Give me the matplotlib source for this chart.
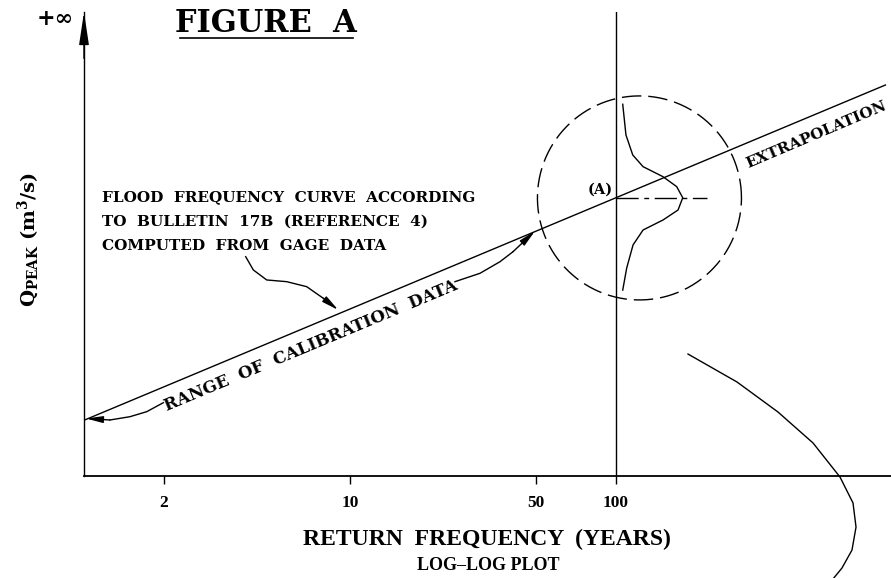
import numpy as np
import matplotlib
matplotlib.use("Agg")
import matplotlib.pyplot as plt
from matplotlib.lines import Line2D

# кривая обеспеченности по Bulletin 17B (прямая в log-log)
curve_T = [1, 1030]
curve_Q = [1.62, 29.5]

# подписи оси x
tick_T = [2, 10, 50, 100]
tick_labels = ["2", "10", "50", "100"]

# точка (A) на T = 100
point_T = 100
point_Q = 11.1

# распределение в точке (A)
bell_T = [106.0, 109.0, 115.6, 126.4, 150.2, 169.1, 178.2, 171.1, 150.2, 126.4, 115.9, 109.7, 106.0]
bell_Q = [24.97, 19.14, 16.10, 14.55, 13.34, 12.24, 11.12, 10.0, 9.17, 8.41, 7.39, 6.05, 5.00]

# кривая справа внизу
tail_T = [186.5, 285.1, 406.4, 550.4, 695.2, 778.0, 798.6, 771.3, 707.3, 626.6]
tail_Q = [2.874, 2.256, 1.740, 1.331, 0.991, 0.792, 0.643, 0.527, 0.451, 0.389]

# круг неопределенности (центр и радиус в декадах)
circle_T = 122.5
circle_Q = 11.1
circle_r = 0.3835

# стрелки-выноски
flood_T = [4.054, 4.331, 4.863, 5.781, 6.874, 7.939, 9.036]
flood_Q = [6.675, 5.950, 5.457, 5.377, 5.149, 4.656, 4.208]
left_T = [1.987, 1.721, 1.489, 1.252, 1.017]
left_Q = [1.886, 1.745, 1.671, 1.624, 1.645]
right_T = [24.81, 30.81, 36.64, 41.01, 49.61]
right_Q = [5.377, 5.781, 6.392, 6.970, 8.339]

W, H = 891, 578
def fx(x):
    return x / W
def fy(y):
    return 1 - y / H

plt.rcParams['mathtext.fontset'] = 'dejavuserif'
serif = "DejaVu Serif"
narrow = "Liberation Serif"

fig = plt.figure(figsize=(W / 100, H / 100), dpi=100)
ax = fig.add_axes([fx(84), fy(476), fx(891) - fx(84), fy(12) - fy(476)])
ax.set_xscale('log')
ax.set_yscale('log')
ax.set_xlim(1, 1081)
ax.set_ylim(1, 55.5)

for s in ['top', 'right']:
    ax.spines[s].set_visible(False)
ax.spines['left'].set_linewidth(1.0)
ax.spines['bottom'].set_linewidth(1.3)
ax.set_yticks([])
ax.minorticks_off()
ax.set_yticks([], minor=True)
ax.set_xticks(tick_T, tick_labels)
ax.tick_params(axis='x', direction='out', length=6, width=1.0, pad=8, labelsize=12.5)
for lab in ax.get_xticklabels():
    lab.set_fontfamily(narrow)
    lab.set_fontweight('bold')

# стрелка оси y
ax.annotate("", xy=(0, 1.0), xycoords='axes fraction', xytext=(0, 0.9),
            arrowprops=dict(arrowstyle="-|>,head_length=2.0,head_width=0.3", lw=1.0,
                            color='black', shrinkA=0, shrinkB=0))

# линии
ax.plot(curve_T, curve_Q, color='black', lw=1.0)
ax.axvline(point_T, color='black', lw=1.0)
ax.plot([point_T, 219.8], [point_Q, point_Q], color='black', lw=1.0,
        linestyle=(0, (16, 4, 3.5, 4)))
ax.plot(bell_T, bell_Q, color='black', lw=1.0)
ax.plot(tail_T, tail_Q, color='black', lw=1.0, clip_on=False)

theta = np.linspace(0, 2 * np.pi, 240)
ax.plot(circle_T * 10 ** (circle_r * np.cos(theta)), circle_Q * 10 ** (circle_r * np.sin(theta)),
        color='black', lw=1.0, linestyle=(0, (14, 5)))

# выноски со стрелками
for tt, qq in [(flood_T, flood_Q), (left_T, left_Q), (right_T, right_Q)]:
    ax.plot(tt[:-1], qq[:-1], color='black', lw=1.0)
    ax.annotate("", xy=(tt[-1], qq[-1]), xytext=(tt[-2], qq[-2]),
                arrowprops=dict(arrowstyle="-|>,head_length=1.0,head_width=0.2", lw=1.0,
                                color='black', shrinkA=0, shrinkB=0))

# тексты
fig.text(fx(266), fy(24), "FIGURE  A", ha='center', va='center', fontsize=22,
         fontfamily=serif, fontweight='bold')
fig.add_artist(Line2D([fx(180), fx(353)], [fy(38), fy(38)], color='black', lw=1.2))

fig.text(fx(55), fy(19), "+∞", ha='center', va='center', fontsize=16,
         fontfamily=serif, fontweight='bold')

fig.text(fx(28), fy(240), r"Q$_{\mathbf{PEAK}}$ (m$^{\mathbf{3}}$/s)", rotation=90,
         ha='center', va='center', fontsize=14, fontfamily=serif, fontweight='bold')

flood_text = "FLOOD  FREQUENCY  CURVE  ACCORDING\nTO  BULLETIN  17B  (REFERENCE  4)\nCOMPUTED  FROM  GAGE  DATA"
fig.text(fx(102), fy(190), flood_text, ha='left', va='top', fontsize=11,
         fontfamily=serif, fontweight='bold', linespacing=1.95)

fig.text(fx(311), fy(346), "RANGE  OF  CALIBRATION  DATA", rotation=22.7, rotation_mode='anchor',
         ha='center', va='center', fontsize=12, fontfamily=serif, fontweight='bold')
fig.text(fx(816), fy(135), "EXTRAPOLATION", rotation=23, rotation_mode='anchor',
         ha='center', va='center', fontsize=11, fontfamily=serif, fontweight='bold')
fig.text(fx(600), fy(190), "(A)", ha='center', va='center', fontsize=10.5,
         fontfamily=serif, fontweight='bold')

fig.text(fx(487), fy(539), "RETURN  FREQUENCY  (YEARS)", ha='center', va='center', fontsize=17,
         fontfamily=narrow, fontweight='bold')
fig.text(fx(488), fy(565), "LOG–LOG PLOT", ha='center', va='center', fontsize=13,
         fontfamily=narrow, fontweight='bold')

fig.savefig("out.png", dpi=100)
